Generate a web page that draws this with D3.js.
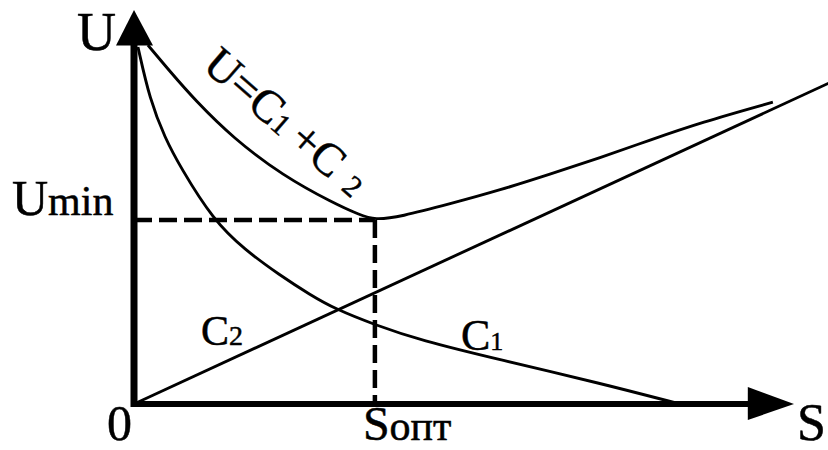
<!DOCTYPE html>
<html>
<head>
<meta charset="utf-8">
<script src="https://cdn.jsdelivr.net/npm/d3@7"></script>
<style>
  body { margin: 0; background: #fff; }
  svg { display: block; }
</style>
</head>
<body>
<div id="chart"></div>
<script>
// curve samples, [S, U]
const totalCost = [
  [0.21, 9.11], [0.55, 8.43], [0.92, 7.72], [1.50, 6.75], [2.26, 5.79],
  [3.02, 5.10], [3.42, 4.80], [3.65, 4.67], [4.03, 4.75], [4.79, 5.08],
  [5.55, 5.43], [6.30, 5.83], [7.06, 6.25], [7.82, 6.70], [8.58, 7.14], [9.68, 7.66]
];
const c1Cost = [
  [0.06, 9.06], [0.24, 7.72], [0.47, 6.75], [0.70, 6.02], [1.20, 4.67],
  [1.68, 3.91], [2.21, 3.27], [2.67, 2.77], [3.05, 2.41], [3.65, 2.01],
  [4.33, 1.62], [5.55, 1.12], [7.06, 0.53], [8.27, 0.0]
];
const c2Cost = [[0, 0], [10.6, 8.2]];
const sOpt = 3.65;
const uMin = 4.67;

const width = 828, height = 450;

const x = d3.scaleLinear().domain([0, 10]).range([134, 794]);
const y = d3.scaleLinear().domain([0, 10]).range([404, 10]);

const svg = d3.select("#chart").append("svg")
  .attr("width", width)
  .attr("height", height)
  .attr("font-family", "'Liberation Serif', 'Times New Roman', serif")
  .attr("fill", "#000");

const line = d3.line()
  .x(d => x(d[0]))
  .y(d => y(d[1]))
  .curve(d3.curveBasis);

// dashed guides
svg.append("line")
  .attr("x1", x(0)).attr("y1", y(uMin))
  .attr("x2", x(sOpt)).attr("y2", y(uMin))
  .attr("stroke", "#000").attr("stroke-width", 4.5)
  .attr("stroke-dasharray", "18,7");
svg.append("line")
  .attr("x1", x(sOpt)).attr("y1", y(uMin))
  .attr("x2", x(sOpt)).attr("y2", y(0))
  .attr("stroke", "#000").attr("stroke-width", 4.5)
  .attr("stroke-dasharray", "18,7");

// curves
[totalCost, c1Cost, c2Cost].forEach(data => {
  svg.append("path")
    .datum(data)
    .attr("d", line)
    .attr("fill", "none")
    .attr("stroke", "#000")
    .attr("stroke-width", 2.9);
});

// axes
svg.append("line")
  .attr("x1", x(0)).attr("y1", y(0) + 3)
  .attr("x2", x(0)).attr("y2", y(9.3))
  .attr("stroke", "#000").attr("stroke-width", 7);
svg.append("path")
  .attr("d", `M${x(0)},${y(10)} L${x(0) + 19},${y(9.1)} L${x(0) - 18},${y(9.1)} Z`)
  .attr("fill", "#000");

svg.append("line")
  .attr("x1", x(0) - 3).attr("y1", y(0))
  .attr("x2", x(9.4)).attr("y2", y(0))
  .attr("stroke", "#000").attr("stroke-width", 6);
svg.append("path")
  .attr("d", `M${x(10)},${y(0)} L${x(9.3)},${y(0) - 17} L${x(9.3)},${y(0) + 16} Z`)
  .attr("fill", "#000");

// labels
const labels = svg.append("g")
  .attr("stroke", "#000")
  .attr("stroke-width", 0.5);

labels.append("text").attr("x", x(0) - 18).attr("y", 50)
  .attr("text-anchor", "end").attr("font-size", 54).text("U");

const umin = labels.append("text").attr("x", 12).attr("y", y(uMin) - 5);
umin.append("tspan").attr("font-size", 50).text("U");
umin.append("tspan").attr("font-size", 42).text("min");

labels.append("text").attr("x", x(0) - 2).attr("y", 440)
  .attr("text-anchor", "end").attr("font-size", 50).text("0");

const sopt = labels.append("text").attr("x", x(sOpt) - 12).attr("y", 440);
sopt.append("tspan").attr("font-size", 48).text("S");
sopt.append("tspan").attr("font-size", 42).text("опт");

labels.append("text").attr("x", 797).attr("y", 440)
  .attr("font-size", 52).text("S");

const c2 = labels.append("text").attr("x", 201).attr("y", 345);
c2.append("tspan").attr("font-size", 42).text("C");
c2.append("tspan").attr("font-size", 28).text("2");

const c1 = labels.append("text").attr("x", 461).attr("y", 350);
c1.append("tspan").attr("font-size", 44).text("C");
c1.append("tspan").attr("font-size", 26).text("1");

const sum = labels.append("text")
  .attr("transform", "translate(201,68) rotate(41)");
sum.append("tspan").attr("font-size", 46).text("U=C");
sum.append("tspan").attr("font-size", 30).text("1");
sum.append("tspan").attr("font-size", 46).attr("dx", 9).text("+C");
sum.append("tspan").attr("font-size", 30).attr("dx", 14).text("2");
</script>
</body>
</html>
